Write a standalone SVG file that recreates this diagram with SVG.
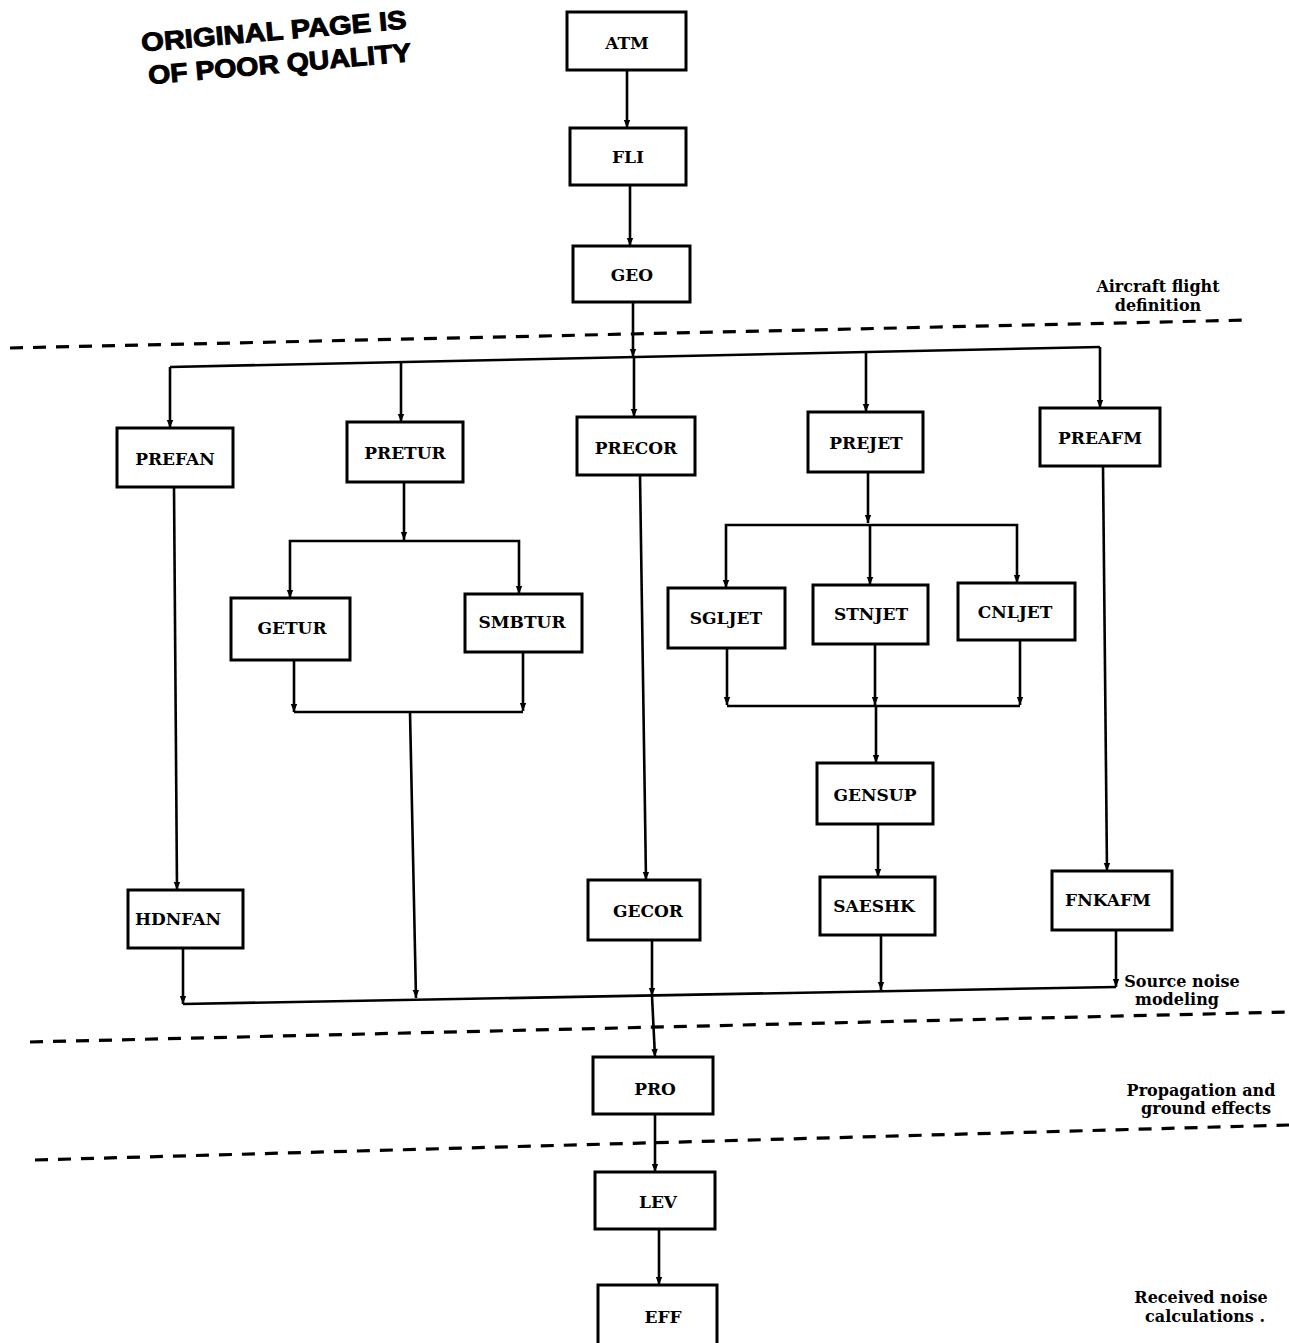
<svg xmlns="http://www.w3.org/2000/svg" width="1289" height="1343" viewBox="0 0 1289 1343">
<style>
.box{fill:#fff;stroke:#000;stroke-width:3}
.lbl{font-family:"DejaVu Serif","Liberation Serif",serif;font-weight:bold;font-size:17px;text-anchor:middle;fill:#000}
.side{font-family:"DejaVu Serif","Liberation Serif",serif;font-weight:bold;font-size:16px;text-anchor:middle;fill:#000}
.ln{fill:none;stroke:#000;stroke-width:2.6}
.arr{fill:none;stroke:#000;stroke-width:2.6;marker-end:url(#ah)}
.dash{fill:none;stroke:#000;stroke-width:3.2;stroke-dasharray:13 10}
.stamp{font-family:"Liberation Sans",Arial,sans-serif;font-weight:bold;font-size:26px;fill:#000;stroke:#000;stroke-width:1}
</style>
<defs>
<marker id="ah" viewBox="0 0 10 10" refX="10" refY="5" markerWidth="9" markerHeight="8" markerUnits="userSpaceOnUse" orient="auto">
<path d="M0,1 L10,5 L0,9 z" fill="#000"/>
</marker>
</defs>
<rect width="1289" height="1343" fill="#fff"/>

<g id="stamp" transform="rotate(-5 275 45)">
<text class="stamp" x="142" y="40" textLength="266" lengthAdjust="spacingAndGlyphs">ORIGINAL PAGE IS</text>
<text class="stamp" x="146" y="73" textLength="264" lengthAdjust="spacingAndGlyphs">OF POOR QUALITY</text>
</g>

<g id="separators">
<path class="dash" d="M10,348 L1250,320"/>
<path class="dash" d="M30,1042 L1289,1012"/>
<path class="dash" d="M35,1160 L1289,1125"/>
</g>

<g id="connectors">
<path class="arr" d="M627,70 V128"/>
<path class="arr" d="M630,185 V246"/>
<path class="arr" d="M633,302 V357"/>
<path class="ln" d="M170,367 L1100,347"/>
<path class="arr" d="M170,367 V428"/>
<path class="arr" d="M401,362 V422"/>
<path class="arr" d="M634,357 V417"/>
<path class="arr" d="M866,352 V412"/>
<path class="arr" d="M1100,347 V408"/>
<path class="arr" d="M174,487 L177,890"/>
<path class="arr" d="M183,948 V1004"/>
<path class="arr" d="M404,482 V540"/>
<path class="arr" d="M404,541 H290 V598"/>
<path class="arr" d="M404,541 H519 V594"/>
<path class="arr" d="M294,660 V712"/>
<path class="arr" d="M523,652 V711"/>
<path class="ln" d="M294,712 H523"/>
<path class="arr" d="M410,712 L416,998"/>
<path class="arr" d="M640,475 L646,880"/>
<path class="arr" d="M652,940 V996"/>
<path class="arr" d="M652,996 L655,1057"/>
<path class="arr" d="M868,472 V523"/>
<path class="arr" d="M868,525 H726 V588"/>
<path class="arr" d="M868,525 H1017 V583"/>
<path class="arr" d="M870,525 V585"/>
<path class="arr" d="M727,648 V705"/>
<path class="arr" d="M1020,640 V705"/>
<path class="arr" d="M875,644 V705"/>
<path class="ln" d="M727,706 H1020"/>
<path class="arr" d="M876,706 V763"/>
<path class="arr" d="M878,824 V877"/>
<path class="arr" d="M881,935 V990"/>
<path class="arr" d="M1103,466 L1107,871"/>
<path class="arr" d="M1116,930 V987"/>
<path class="ln" d="M183,1004 L1116,987"/>
<path class="arr" d="M655,1114 V1172"/>
<path class="arr" d="M659,1229 V1285"/>
</g>

<g id="ATM"><rect class="box" x="567" y="12" width="119" height="58"/><text class="lbl" x="627" y="49">ATM</text></g>
<g id="FLI"><rect class="box" x="570" y="128" width="116" height="57"/><text class="lbl" x="628" y="163">FLI</text></g>
<g id="GEO"><rect class="box" x="573" y="246" width="117" height="56"/><text class="lbl" x="632" y="281">GEO</text></g>
<g id="PREFAN"><rect class="box" x="117" y="428" width="116" height="59"/><text class="lbl" x="175" y="465">PREFAN</text></g>
<g id="PRETUR"><rect class="box" x="347" y="422" width="116" height="60"/><text class="lbl" x="405" y="459">PRETUR</text></g>
<g id="PRECOR"><rect class="box" x="577" y="417" width="118" height="58"/><text class="lbl" x="636" y="454">PRECOR</text></g>
<g id="PREJET"><rect class="box" x="808" y="412" width="115" height="60"/><text class="lbl" x="866" y="449">PREJET</text></g>
<g id="PREAFM"><rect class="box" x="1040" y="408" width="120" height="58"/><text class="lbl" x="1100" y="444">PREAFM</text></g>
<g id="GETUR"><rect class="box" x="231" y="598" width="119" height="62"/><text class="lbl" x="292" y="634">GETUR</text></g>
<g id="SMBTUR"><rect class="box" x="465" y="594" width="117" height="58"/><text class="lbl" x="522" y="628">SMBTUR</text></g>
<g id="SGLJET"><rect class="box" x="668" y="588" width="117" height="60"/><text class="lbl" x="726" y="624">SGLJET</text></g>
<g id="STNJET"><rect class="box" x="813" y="585" width="115" height="59"/><text class="lbl" x="871" y="620">STNJET</text></g>
<g id="CNLJET"><rect class="box" x="958" y="583" width="117" height="57"/><text class="lbl" x="1015" y="618">CNLJET</text></g>
<g id="GENSUP"><rect class="box" x="817" y="763" width="116" height="61"/><text class="lbl" x="875" y="801">GENSUP</text></g>
<g id="HDNFAN"><rect class="box" x="128" y="890" width="115" height="58"/><text class="lbl" x="178" y="925">HDNFAN</text></g>
<g id="GECOR"><rect class="box" x="588" y="880" width="112" height="60"/><text class="lbl" x="648" y="917">GECOR</text></g>
<g id="SAESHK"><rect class="box" x="820" y="877" width="115" height="58"/><text class="lbl" x="874" y="912">SAESHK</text></g>
<g id="FNKAFM"><rect class="box" x="1052" y="871" width="120" height="59"/><text class="lbl" x="1108" y="906">FNKAFM</text></g>
<g id="PRO"><rect class="box" x="593" y="1057" width="120" height="57"/><text class="lbl" x="655" y="1095">PRO</text></g>
<g id="LEV"><rect class="box" x="595" y="1172" width="120" height="57"/><text class="lbl" x="658" y="1208">LEV</text></g>
<g id="EFF"><rect class="box" x="598" y="1285" width="119" height="62"/><text class="lbl" x="663" y="1323">EFF</text></g>

<g id="labels">
<text class="side" x="1158" y="292">Aircraft flight</text>
<text class="side" x="1158" y="311">definition</text>
<text class="side" x="1182" y="987">Source noise</text>
<text class="side" x="1177" y="1005">modeling</text>
<text class="side" x="1201" y="1096">Propagation and</text>
<text class="side" x="1206" y="1114">ground effects</text>
<text class="side" x="1201" y="1303">Received noise</text>
<text class="side" x="1205" y="1322">calculations .</text>
</g>
</svg>
